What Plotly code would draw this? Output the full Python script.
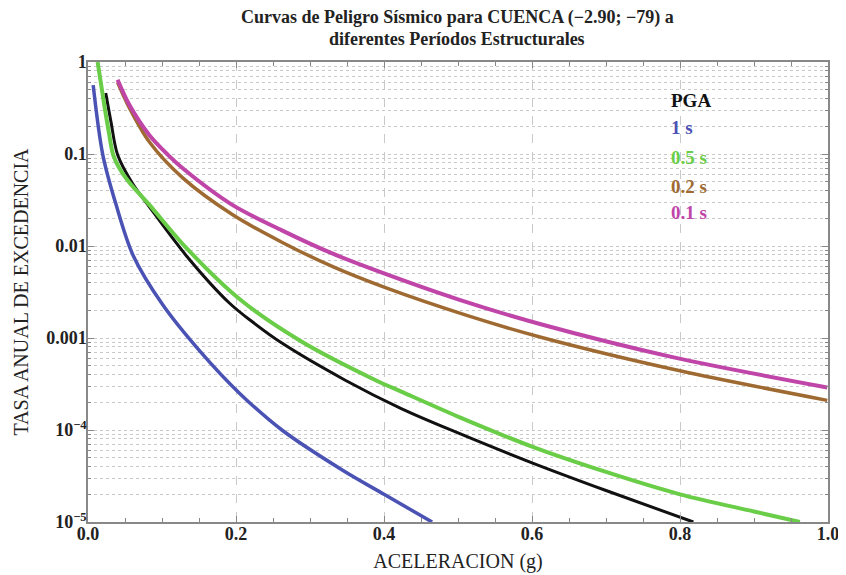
import plotly.graph_objects as go

# ---- data ----
pga_x = [0.024, 0.031, 0.040, 0.060, 0.081, 0.132, 0.191, 0.222, 0.262, 0.347, 0.424, 0.50, 0.60, 0.70, 0.818]
pga_y = [0.46, 0.225, 0.098, 0.048, 0.028, 0.008, 0.0024, 0.0015, 8.8e-4, 3.5e-4, 1.7e-4, 9.3e-5, 4.4e-5, 2.2e-5, 1.0e-5]

s1_x = [0.007, 0.020, 0.038, 0.061, 0.101, 0.150, 0.205, 0.262, 0.343, 0.400, 0.465]
s1_y = [0.56, 0.098, 0.028, 0.0079, 0.0023, 7.4e-4, 2.5e-4, 1.0e-4, 3.7e-5, 2.0e-5, 1.0e-5]

s05_x = [0.013, 0.022, 0.028, 0.034, 0.042, 0.055, 0.083, 0.128, 0.206, 0.289, 0.388, 0.424, 0.50, 0.60, 0.70, 0.80, 0.90, 0.962]
s05_y = [1.0, 0.34, 0.175, 0.098, 0.071, 0.050, 0.028, 0.0105, 0.0026, 9.1e-4, 3.5e-4, 2.6e-4, 1.4e-4, 6.6e-5, 3.5e-5, 2.0e-5, 1.3e-5, 1.0e-5]

s02_x = [0.040, 0.054, 0.083, 0.128, 0.195, 0.262, 0.330, 0.401, 0.514, 0.612, 0.80, 0.999]
s02_y = [0.60, 0.34, 0.135, 0.055, 0.022, 0.011, 0.0060, 0.00355, 0.00174, 0.00102, 4.4e-4, 2.1e-4]

s01_x = [0.040, 0.056, 0.083, 0.108, 0.128, 0.195, 0.262, 0.330, 0.401, 0.50, 0.612, 0.79, 0.999]
s01_y = [0.64, 0.34, 0.16, 0.098, 0.070, 0.028, 0.0148, 0.0083, 0.0050, 0.00263, 0.00141, 6.2e-4, 2.9e-4]

x_tickvals = [0.0, 0.2, 0.4, 0.6, 0.8, 1.0]
x_ticktext = ["0.0", "0.2", "0.4", "0.6", "0.8", "1.0"]
y_tickvals = [1, 0.1, 0.01, 0.001, 1e-4, 1e-5]
y_ticktext = ["1", "0.1", "0.01", "0.001", "10<sup>−4</sup>", "10<sup>−5</sup>"]

legend_labels = ["PGA", "1 s", "0.5 s", "0.2 s", "0.1 s"]
colors = ["#111111", "#4a52b4", "#6acd48", "#9e6a32", "#c045a8"]

title_lines = ["Curvas de Peligro Sísmico para CUENCA (−2.90; −79) a",
               "diferentes Períodos Estructurales"]

serif = "Liberation Serif, Times New Roman, serif"

fig = go.Figure()
series = [
    (s1_x, s1_y, colors[1], 3.5),
    (pga_x, pga_y, colors[0], 3.0),
    (s05_x, s05_y, colors[2], 4.0),
    (s02_x, s02_y, colors[3], 3.5),
    (s01_x, s01_y, colors[4], 4.0),
]
for xs, ys, c, w in series:
    fig.add_trace(go.Scatter(x=xs, y=ys, mode="lines",
                             line=dict(color=c, width=w, shape="spline", smoothing=0.9),
                             showlegend=False, hoverinfo="skip"))

legend_y = [0.917, 0.857, 0.793, 0.730, 0.672]
for lab, c, yy in zip(legend_labels, colors, legend_y):
    fig.add_annotation(text="<b>" + lab + "</b>", x=0.785, y=yy, xref="paper", yref="paper",
                       xanchor="left", yanchor="middle", showarrow=False,
                       font=dict(family=serif, size=19, color=c))

for line, yy in zip(title_lines, [1.096, 1.050]):
    fig.add_annotation(text="<b>" + line + "</b>", x=0.499, y=yy, xref="paper", yref="paper",
                       xanchor="center", yanchor="middle", showarrow=False,
                       font=dict(family=serif, size=18, color="#222"))

grid_c = "#c9c9c9"
fig.update_layout(
    width=846, height=575,
    margin=dict(l=77, r=26, t=54, b=61),
    paper_bgcolor="white", plot_bgcolor="white",
    font=dict(family=serif, color="#222"),
)
fig.update_xaxes(range=[0, 1], tickvals=x_tickvals, ticktext=x_ticktext,
                 tickfont=dict(family=serif, size=18, color="#222", weight="bold"),
                 ticks="inside", ticklen=6, tickcolor="#888", mirror="ticks",
                 ticklabelstandoff=-5,
                 showline=True, linecolor="#888", linewidth=1.5,
                 showgrid=True, gridcolor=grid_c, griddash="dash", gridwidth=1,
                 zeroline=False,
                 minor=dict(dtick=0.05, ticks="inside", ticklen=4, tickcolor="#888", showgrid=False),
                 title=dict(text="ACELERACION (g)", font=dict(family=serif, size=20, color="#222"), standoff=11))
fig.update_yaxes(type="log", range=[-5, 0], tickvals=y_tickvals, ticktext=y_ticktext,
                 tickfont=dict(family=serif, size=18, color="#222", weight="bold"),
                 ticks="inside", ticklen=6, tickcolor="#888", mirror="ticks",
                 ticklabelstandoff=-4,
                 showline=True, linecolor="#888", linewidth=1.5,
                 showgrid=True, gridcolor=grid_c, griddash="dot", gridwidth=1,
                 zeroline=False,
                 minor=dict(dtick="D1", ticks="inside", ticklen=3, tickcolor="#888",
                            showgrid=True, gridcolor=grid_c, griddash="dot", gridwidth=1),
                 title=dict(text="TASA ANUAL DE EXCEDENCIA", font=dict(family=serif, size=20, color="#222"), standoff=12))

fig.write_html("out.html")
